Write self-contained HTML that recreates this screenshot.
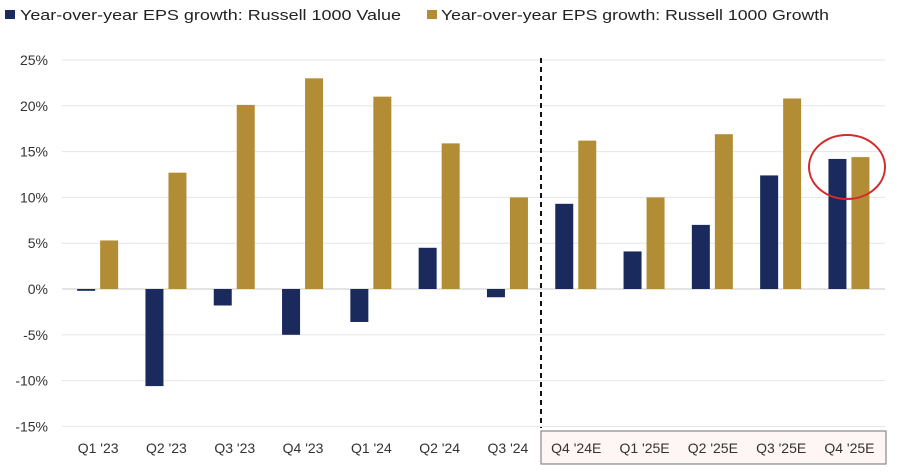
<!DOCTYPE html>
<html><head><meta charset="utf-8"><style>
body{margin:0;background:#fff;width:900px;height:468px;overflow:hidden;font-family:"Liberation Sans",sans-serif}
</style></head><body>
<svg id="chart" width="900" height="468" xmlns="http://www.w3.org/2000/svg">
<g>
<rect x="5" y="10" width="10" height="9" fill="#1b2a5c"/>
<text x="20" y="20" font-size="15" fill="#222" textLength="381" lengthAdjust="spacingAndGlyphs">Year-over-year EPS growth: Russell 1000 Value</text>
<rect x="427" y="10" width="10" height="9" fill="#b38d36"/>
<text x="441" y="20" font-size="15" fill="#222" textLength="388" lengthAdjust="spacingAndGlyphs">Year-over-year EPS growth: Russell 1000 Growth</text>
</g>
<g id="grid"></g><g id="bars"></g><g id="xl"></g>
<line x1="541" y1="58" x2="541" y2="428" stroke="#111" stroke-width="2" stroke-dasharray="5,4"/>
<rect x="541" y="431" width="345" height="33" fill="#fdf6f4" stroke="#888" stroke-width="1.2"/>
<ellipse cx="847" cy="167" rx="38" ry="32" fill="none" stroke="#d42a2a" stroke-width="2"/>
<g id="xt"></g>
</svg>
<script>
const categories=["Q1 '23","Q2 '23","Q3 '23","Q4 '23","Q1 '24","Q2 '24","Q3 '24","Q4 '24E","Q1 '25E","Q2 '25E","Q3 '25E","Q4 '25E"];
const valueSeries=[-0.2,-10.6,-1.8,-5.0,-3.6,4.5,-0.9,9.3,4.1,7.0,12.4,14.2];
const growthSeries=[5.3,12.7,20.1,23.0,21.0,15.9,10.0,16.2,10.0,16.9,20.8,14.4];
const yTicks=[25,20,15,10,5,0,-5,-10,-15];
const NS="http://www.w3.org/2000/svg";
const x0=64,step=68.3,y0=289,pxPer=229/25;
const y=v=>y0-v*pxPer;
const cx=i=>x0+step*(i+0.5);
function mk(t,a,p){const e=document.createElementNS(NS,t);for(const k in a)e.setAttribute(k,a[k]);p.appendChild(e);return e;}
const grid=document.getElementById('grid'),bars=document.getElementById('bars'),xt=document.getElementById('xt');
yTicks.forEach(t=>{
 const l=mk('line',{x1:62,x2:885,y1:y(t),y2:y(t),stroke:t===0?'#c8c8c8':'#e6e6e6','stroke-width':1},grid);
 
 
 const tx=mk('text',{x:48,y:y(t)+5,'text-anchor':'end','font-size':14,fill:'#333'},grid);
 tx.textContent=t+'%';
 
 
});
categories.forEach((c,i)=>{
 const v=valueSeries[i],g=growthSeries[i];
 const b1=mk('rect',{x:cx(i)-21,width:18,y:Math.min(y(v),y0),height:Math.abs(y(v)-y0),fill:'#1b2a5c'},bars);
 
 
 const b2=mk('rect',{x:cx(i)+2,width:18,y:Math.min(y(g),y0),height:Math.abs(y(g)-y0),fill:'#b38d36'},bars);
 
 
 const tx=mk('text',{x:cx(i),y:453,'text-anchor':'middle','font-size':14,fill:'#333'},xt);
 tx.textContent=c;
 
 
});
</script>
</body></html>
